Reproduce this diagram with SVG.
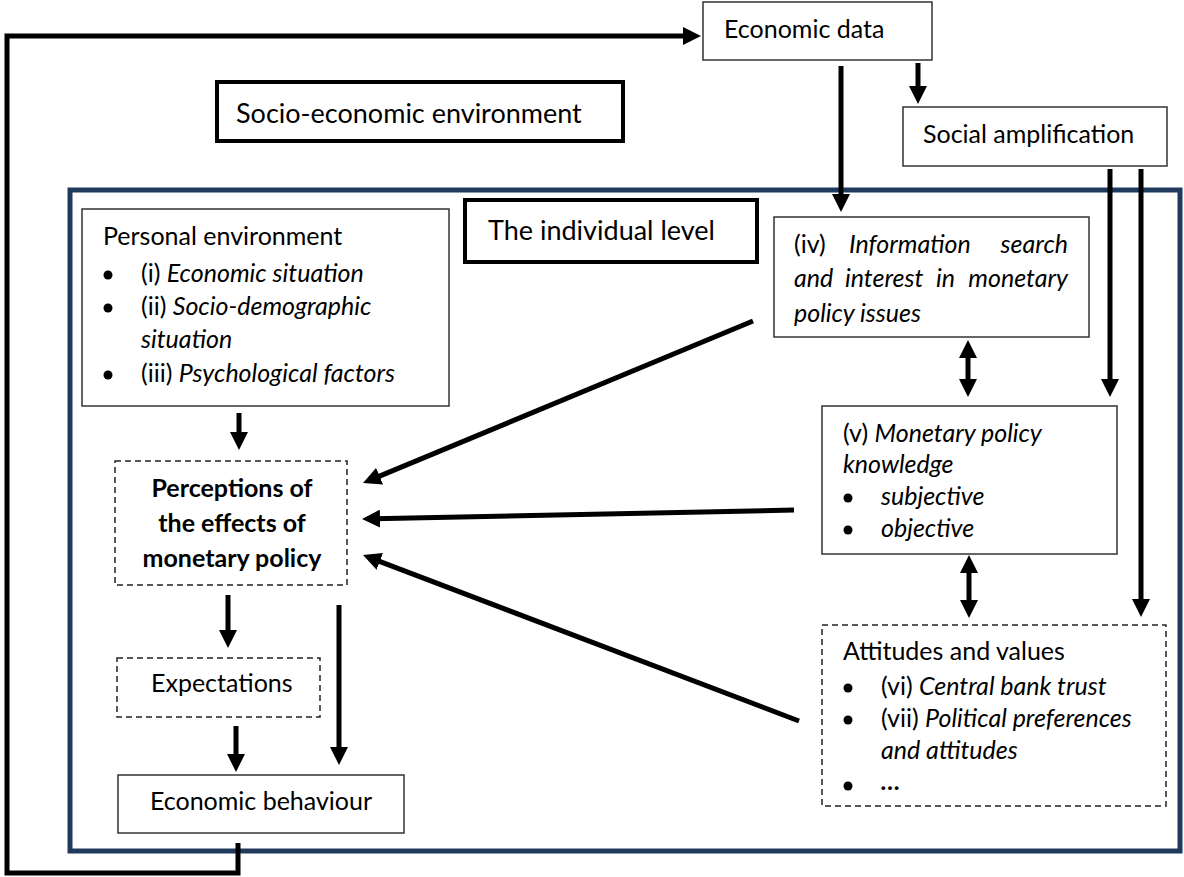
<svg xmlns="http://www.w3.org/2000/svg" width="1184" height="877" viewBox="0 0 1184 877">
<defs>
<style>
text{font-family:Lato,"Carlito","Liberation Sans",sans-serif;font-size:25px;fill:#000}
.big{font-size:27px}
.b{font-weight:bold}
.i{font-style:italic}
.box{fill:#fff;stroke:#333;stroke-width:1.5}
.dash{fill:#fff;stroke:#222;stroke-width:1.5;stroke-dasharray:6 4}
.thick{fill:#fff;stroke:#000;stroke-width:4}
.frame{fill:none;stroke:#203a5e;stroke-width:5}
.c{fill:none;stroke:#000;stroke-width:5}
.a{marker-end:url(#ah)}
.d{marker-start:url(#ah);marker-end:url(#ah)}
</style>
<marker id="ah" markerUnits="userSpaceOnUse" viewBox="0 0 18 18" refX="6" refY="9" markerWidth="18" markerHeight="18" orient="auto-start-reverse">
<path d="M0,0 L18,9 L0,18 z" fill="#000"/>
</marker>
</defs>
<rect width="1184" height="877" fill="#fff"/>
<rect class="frame" x="70" y="190" width="1110" height="661"/>

<g id="connectors">
<path class="c a" d="M238,843 V873 H7 V36 H689"/>
<path class="c a" d="M918,63 V92"/>
<path class="c a" d="M841,66 V200"/>
<path class="c a" d="M1110,169 V385"/>
<path class="c a" d="M1141,169 V605"/>
<path class="c d" d="M968,352 V385"/>
<path class="c d" d="M969,567 V606"/>
<path class="c a" d="M239,413 V438"/>
<path class="c a" d="M753,321 L374.1,478.4"/>
<path class="c a" d="M794,510 L374,518.8"/>
<path class="c a" d="M799,721 L374.2,559.3"/>
<path class="c a" d="M228,595 V636"/>
<path class="c a" d="M236,726 V760"/>
<path class="c a" d="M339,605 V753"/>
</g>

<g id="economic-data">
<rect class="box" x="703" y="2" width="229" height="58"/>
<text x="724" y="38">Economic data</text>
</g>
<g id="social-amplification">
<rect class="box" x="903" y="107" width="264" height="59"/>
<text x="923" y="143">Social amplification</text>
</g>
<g id="socio-economic-environment">
<rect class="thick" x="217" y="82" width="406" height="59"/>
<text class="big" x="236" y="123">Socio-economic environment</text>
</g>
<g id="individual-level">
<rect class="thick" x="465" y="200" width="292" height="62"/>
<text class="big" x="488" y="240">The individual level</text>
</g>
<g id="personal-environment">
<rect class="box" x="82" y="209" width="367" height="197"/>
<text x="103" y="245">Personal environment</text>
<circle cx="108" cy="275" r="4.5"/>
<circle cx="108" cy="308" r="4.5"/>
<circle cx="108" cy="375" r="4.5"/>
<text x="141" y="282">(i) <tspan class="i">Economic situation</tspan></text>
<text x="141" y="315">(ii) <tspan class="i">Socio-demographic</tspan></text>
<text x="141" y="348" class="i">situation</text>
<text x="141" y="382">(iii) <tspan class="i">Psychological factors</tspan></text>
</g>
<g id="perceptions">
<rect class="dash" x="115" y="461" width="232" height="124"/>
<text class="b" x="232" y="497" text-anchor="middle">Perceptions of</text>
<text class="b" x="232" y="532" text-anchor="middle">the effects of</text>
<text class="b" x="232" y="567" text-anchor="middle">monetary policy</text>
</g>
<g id="expectations">
<rect class="dash" x="117" y="658" width="203" height="59"/>
<text x="151" y="692">Expectations</text>
</g>
<g id="economic-behaviour">
<rect class="box" x="118" y="775" width="286" height="58"/>
<text x="261" y="810" text-anchor="middle">Economic behaviour</text>
</g>
<g id="information-search">
<rect class="box" x="774" y="217" width="315" height="120"/>
<text x="794" y="253">(iv)</text>
<text class="i" x="849" y="253">Information</text>
<text class="i" x="1068" y="253" text-anchor="end">search</text>
<text class="i" x="794" y="287">and</text>
<text class="i" x="845" y="287">interest</text>
<text class="i" x="936" y="287">in</text>
<text class="i" x="1068" y="287" text-anchor="end">monetary</text>
<text class="i" x="794" y="322">policy issues</text>
</g>
<g id="knowledge">
<rect class="box" x="822" y="406" width="295" height="148"/>
<text x="843" y="442">(v) <tspan class="i">Monetary policy</tspan></text>
<text class="i" x="843" y="473">knowledge</text>
<circle cx="848" cy="498" r="4.5"/>
<circle cx="848" cy="530" r="4.5"/>
<text class="i" x="881" y="505">subjective</text>
<text class="i" x="881" y="537">objective</text>
</g>
<g id="attitudes">
<rect class="dash" x="822" y="625" width="344" height="181"/>
<text x="843" y="660">Attitudes and values</text>
<circle cx="848" cy="688" r="4.5"/>
<circle cx="848" cy="720" r="4.5"/>
<circle cx="848" cy="786" r="4.5"/>
<text x="881" y="695">(vi) <tspan class="i">Central bank trust</tspan></text>
<text x="881" y="727">(vii) <tspan class="i">Political preferences</tspan></text>
<text class="i" x="881" y="759">and attitudes</text>
<text class="i b" x="881" y="790">…</text>
</g>
</svg>
